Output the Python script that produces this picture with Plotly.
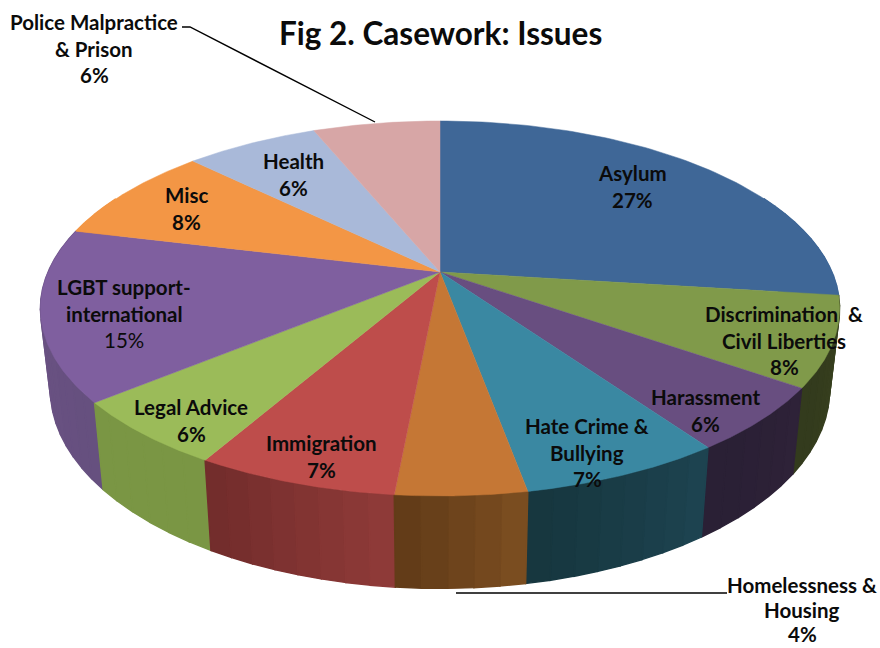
import numpy as np
import plotly.graph_objects as go

categories = ["Asylum", "Discrimination & Civil Liberties", "Harassment", "Hate Crime & Bullying",
              "Homelessness & Housing", "Immigration", "Legal Advice", "LGBT support-international",
              "Misc", "Health", "Police Malpractice & Prison"]
values = [27.0, 7.7, 5.55, 6.85, 4.4, 6.8, 5.75, 14.75, 8.5, 6.5, 6.2]
percent_labels = ["27%", "8%", "6%", "7%", "4%", "7%", "6%", "15%", "8%", "6%", "6%"]
top_colors = ["#3F6797", "#809A4A", "#684E80", "#3A88A2", "#C57735", "#BE4D4B",
              "#9BBB59", "#7F5F9F", "#F39645", "#A9B9D9", "#D7A6A6"]
wall_start = ["#3F6797", "#39421F", "#2E2238", "#1D4350", "#7A4D20", "#8E3A38",
              "#7A9644", "#66507F", "#F39645", "#A9B9D9", "#D7A6A6"]
wall_end = ["#3F6797", "#333B1D", "#2A2035", "#17373F", "#633C18", "#732D2C",
            "#7A9644", "#6E5488", "#F39645", "#A9B9D9", "#D7A6A6"]
label_lines = [["Asylum"], ["Discrimination  &", "Civil Liberties"], ["Harassment"],
               ["Hate Crime &", "Bullying"], ["Homelessness &", "Housing"], ["Immigration"],
               ["Legal Advice"], ["LGBT support-", "international"], ["Misc"], ["Health"],
               ["Police Malpractice", "& Prison"]]
label_xy = [(632, 173), (784, 314), (705, 397), (587, 426), (802, 585), (321, 443),
            (191, 407), (124, 287), (186, 195), (293, 161), (94, 22)]
label_step = [26.5, 26.5, 26.5, 26.5, 24.5, 26.5, 26.5, 26.5, 26.5, 26.5, 26.5]
regular_percent = ["15%"]
title = "Fig 2. Casework: Issues"

CX, CY, A, B, K = 440, 272, 392, 180.4, 0.1946
SX, SY, DY = 0.975, 1.06, 79


def top(theta):
    u, v = np.sin(theta), np.cos(theta)
    d = 1 + K * v
    return A * u / d, -B * v / d


def pt_top(theta):
    x, y = top(theta)
    return CX + x, CY + y


def pt_bot(theta):
    x, y = top(theta)
    return CX + SX * x, CY + DY + SY * y


def rgb(h):
    return np.array([int(h[i:i + 2], 16) for i in (1, 3, 5)], float)


fig = go.Figure()
total = sum(values)
edges = np.concatenate([[0], np.cumsum(values)]) / total * 2 * np.pi

# side walls, strip by strip, back to front
strips = []
for i in range(len(values)):
    n = max(2, int((edges[i + 1] - edges[i]) / np.radians(3)))
    ts = np.linspace(edges[i], edges[i + 1], n + 1)
    for j in range(n):
        t0, t1 = ts[j], ts[j + 1]
        mid = (t0 + t1) / 2
        if np.cos(mid) < 0.45:
            c = rgb(wall_start[i]) + (rgb(wall_end[i]) - rgb(wall_start[i])) * (j / max(1, n - 1))
            strips.append((np.cos(mid), t0, t1, "rgb(%d,%d,%d)" % tuple(c)))
strips.sort(key=lambda s: -s[0])
for _, t0, t1, col in strips:
    ts = np.linspace(t0, t1, 4)
    xt, yt = pt_top(ts)
    xb, yb = pt_bot(ts)
    fig.add_trace(go.Scatter(x=np.r_[xt, xb[::-1], xt[0]], y=np.r_[yt, yb[::-1], yt[0]],
                             mode="lines", fill="toself", fillcolor=col,
                             line=dict(color=col, width=1.4), hoverinfo="skip", showlegend=False))

# top face
for i in range(len(values)):
    ts = np.linspace(edges[i], edges[i + 1], 80)
    x, y = pt_top(ts)
    fig.add_trace(go.Scatter(x=np.r_[CX, x, CX], y=np.r_[CY, y, CY], mode="lines", fill="toself",
                             fillcolor=top_colors[i], line=dict(color=top_colors[i], width=0.5),
                             name=categories[i], hoverinfo="name", showlegend=False))

# leader lines
fig.add_trace(go.Scatter(x=[182, 190, 375], y=[27, 27, 122], mode="lines",
                         line=dict(color="#000000", width=1.4), hoverinfo="skip", showlegend=False))
fig.add_trace(go.Scatter(x=[456, 727], y=[593, 593], mode="lines",
                         line=dict(color="#000000", width=1.6), hoverinfo="skip", showlegend=False))

FONT = "Lato, 'Open Sans', sans-serif"
ann = []
for i, lines in enumerate(label_lines):
    x0, y0 = label_xy[i]
    for k, t in enumerate(lines + [percent_labels[i]]):
        txt = t if t in regular_percent else "<b>%s</b>" % t
        ann.append(dict(x=x0, y=y0 + k * label_step[i], text=txt, showarrow=False,
                        xanchor="center", yanchor="middle",
                        font=dict(family=FONT, size=20.5, color="#0B0B0B")))
ann.append(dict(x=440, y=33, text="<b>%s</b>" % title, showarrow=False, xanchor="center",
                yanchor="middle", font=dict(family=FONT, size=31.5, color="#0B0B0B")))

fig.update_layout(width=880, height=648, margin=dict(l=0, r=0, t=0, b=0),
                  paper_bgcolor="white", plot_bgcolor="white", annotations=ann,
                  xaxis=dict(range=[0, 880], visible=False, fixedrange=True),
                  yaxis=dict(range=[648, 0], visible=False, fixedrange=True))
fig.write_html("out.html", config={"displayModeBar": False},
               post_script="document.body.style.margin='0';document.body.style.overflow='hidden';")
